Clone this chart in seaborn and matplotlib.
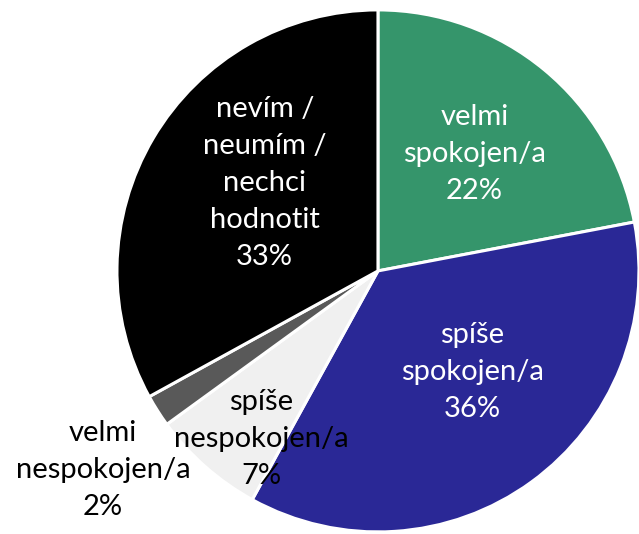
import numpy as np
import matplotlib.pyplot as plt
import seaborn as sns

sns.set_theme(style="white")
plt.rcParams['font.family'] = ['Lato', 'DejaVu Sans']

# data
labels = ['velmi\nspokojen/a', 'spíše\nspokojen/a', 'spíše\nnespokojen/a',
          'velmi\nnespokojen/a', 'nevím /\nneumím /\nnechci\nhodnotit']
values = [22, 36, 7, 2, 33]
colors = ['#35956B', '#2A2896', '#F0F0F0', '#595959', '#000000']
text_colors = ['white', 'white', 'black', 'black', 'white']
# label placement (radius, angle shift in degrees)
label_dist = [0.58, 0.53, 0.785, 1.30, 0.55]
label_shift = [0, 7, 6.7, 3.5, -7.3]

fig = plt.figure(figsize=(6.39, 5.34), dpi=100)
ax = fig.add_axes([0, 0, 1, 1])

wedges, _ = ax.pie(values, colors=colors, startangle=90, counterclock=False,
                   radius=1.0, wedgeprops=dict(edgecolor='white', linewidth=2.2))

for w, lab, v, tc, d, s in zip(wedges, labels, values, text_colors, label_dist, label_shift):
    ang = np.deg2rad((w.theta1 + w.theta2) / 2 + s)
    x, y = d * np.cos(ang), d * np.sin(ang)
    ax.text(x, y, f'{lab}\n{v}%', ha='center', va='center', color=tc,
            fontsize=21, linespacing=1.52)

ax.set_aspect('equal')
ax.set_xlim(-1.448, 1.0)
ax.set_ylim(-1.008, 1.038)
ax.axis('off')

fig.savefig('out.png', dpi=100)
